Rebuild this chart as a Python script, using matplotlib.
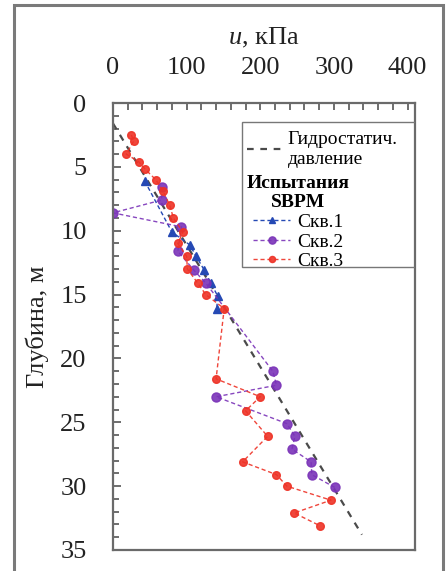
import matplotlib
matplotlib.use("Agg")
import matplotlib.pyplot as plt
from matplotlib.patches import Rectangle
from matplotlib.ticker import MultipleLocator

# --------------------------------------------------
# Data
# --------------------------------------------------
hydro_u = [0, 338]
hydro_z = [1.6, 33.8]

skv1_u = [43, 80, 104, 113, 124, 133, 142, 141]
skv1_z = [6.1, 10.1, 11.1, 12.0, 13.1, 14.1, 15.1, 16.1]

skv2_u = [67, 66, 0, 93, 88, 110, 126, 217, 222, 140, 236, 247, 243, 269, 270, 301]
skv2_z = [6.6, 7.6, 8.6, 9.7, 11.6, 13.1, 14.1, 21.0, 22.1, 23.0, 25.1, 26.1,
          27.1, 28.1, 29.1, 30.1]

skv3_u = [25, 28, 18, 35, 44, 58, 68, 77, 82, 95, 88, 100, 101, 115, 126, 151,
          140, 200, 180, 210, 176, 222, 236, 296, 246, 281]
skv3_z = [2.5, 3.0, 4.0, 4.6, 5.2, 6.0, 6.9, 8.0, 9.0, 10.1, 11.0, 12.0, 13.0,
          14.1, 15.0, 16.1, 21.6, 23.0, 24.1, 26.1, 28.1, 29.1, 30.0, 31.1,
          32.1, 33.1]

x_ticks = [0, 100, 200, 300, 400]
y_ticks = [0, 5, 10, 15, 20, 25, 30, 35]

plt.rcParams["font.family"] = ["Liberation Serif", "DejaVu Serif"]
plt.rcParams["mathtext.fontset"] = "custom"
plt.rcParams["mathtext.it"] = "Liberation Serif:italic"
plt.rcParams["mathtext.rm"] = "Liberation Serif"

fig = plt.figure(figsize=(4.48, 5.71), dpi=100)
ax = fig.add_axes([0.2522, 0.0368, 0.674, 0.7828])

# outer frame of the picture
fig.patches.append(Rectangle((0.032, -0.05), 0.957, 1.042, transform=fig.transFigure,
                             fill=False, edgecolor="#7a7a7a", lw=2.2))

c_blue = "#2549b4"
c_purple = "#7a33b8"
c_red = "#ee3226"

hydro, = ax.plot(hydro_u, hydro_z, color="#4a4a4a", lw=1.6, ls=(0, (3, 3)))
l1, = ax.plot(skv1_u, skv1_z, color=c_blue, lw=1.0, ls=(0, (3, 2)),
              marker="^", ms=6, mec=c_blue, mfc=c_blue)
l2, = ax.plot(skv2_u, skv2_z, color=c_purple, lw=1.0, ls=(0, (3, 2)), alpha=0.9,
              marker="o", ms=6.5, mec=c_purple, mfc=c_purple)
l3, = ax.plot(skv3_u, skv3_z, color=c_red, lw=1.0, ls=(0, (3, 2)), alpha=0.9,
              marker="o", ms=5.5, mec=c_red, mfc=c_red)

ax.set_xlim(0, 410)
ax.set_ylim(35, 0)
ax.set_xticks(x_ticks)
ax.set_yticks(y_ticks)
ax.xaxis.set_minor_locator(MultipleLocator(20))
ax.yaxis.set_minor_locator(MultipleLocator(1))
ax.xaxis.tick_top()
ax.xaxis.set_label_position("top")
ax.tick_params(axis="x", which="both", direction="in", length=5, width=1.2,
               colors="#555555", labelcolor="#222222", labelsize=19, pad=17)
ax.tick_params(axis="y", which="major", direction="in", length=5.5, width=1.2,
               colors="#555555", labelcolor="#222222", labelsize=19, pad=19)
ax.tick_params(axis="y", which="minor", direction="in", length=4.5, width=1.2,
               colors="#555555")
for s in ax.spines.values():
    s.set_color("#6a6a6a")
    s.set_linewidth(1.6)

ax.set_xlabel(r"$u$, кПа", fontsize=19, labelpad=9, color="#222222")
ax.set_ylabel("Глубина, м", fontsize=19, labelpad=8, color="#222222")

# --------------------------------------------------
# Legend: hydrostatic line, then the SBPM group
# --------------------------------------------------
ax.add_patch(Rectangle((0.427, 0.632), 0.573, 0.325, transform=ax.transAxes,
                       fill=False, edgecolor="#777777", lw=1.0, zorder=5))
leg1 = ax.legend([hydro], ["Гидростатич.\nдавление"], loc="upper left",
                 bbox_to_anchor=(0.43, 0.945), frameon=False, fontsize=14,
                 handlelength=1.8, handletextpad=0.3, borderpad=0.2,
                 borderaxespad=0, labelspacing=0)
ax.add_artist(leg1)
leg2 = ax.legend([l1, l2, l3], ["Скв.1", "Скв.2", "Скв.3"], loc="upper left",
                 bbox_to_anchor=(0.43, 0.848), frameon=False, fontsize=14,
                 title="Испытания\nSBPM",
                 title_fontproperties={"weight": "bold", "size": 14},
                 handlelength=1.9, handletextpad=0.35, borderpad=0.2,
                 borderaxespad=0, labelspacing=0.1, markerscale=0.8)
leg2.get_title().set_multialignment("center")

fig.savefig("out.png", dpi=100)
